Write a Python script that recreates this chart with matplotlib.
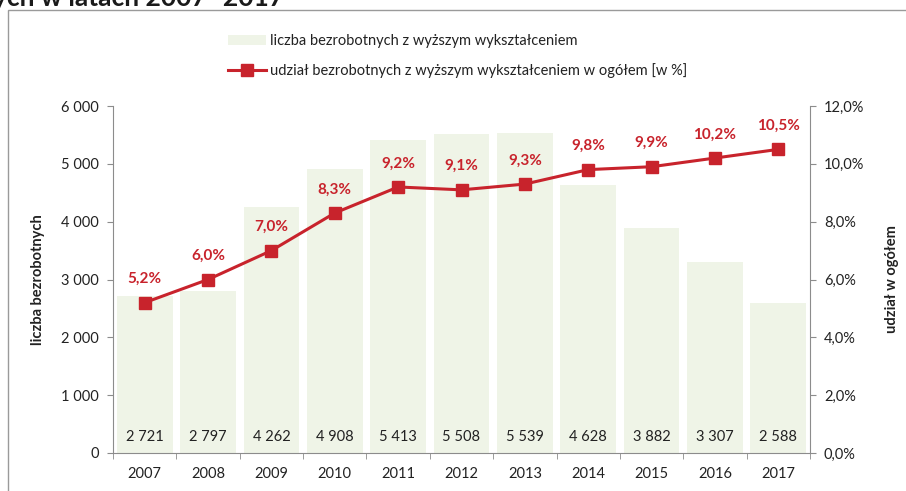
import numpy as np
import matplotlib.pyplot as plt
from matplotlib.patches import Rectangle
from matplotlib.ticker import FuncFormatter

plt.rcParams["font.family"] = ["Lato", "DejaVu Sans"]

years = ["2007", "2008", "2009", "2010", "2011", "2012", "2013", "2014", "2015", "2016", "2017"]
unemployed = [2721, 2797, 4262, 4908, 5413, 5508, 5539, 4628, 3882, 3307, 2588]
share = [5.2, 6.0, 7.0, 8.3, 9.2, 9.1, 9.3, 9.8, 9.9, 10.2, 10.5]

bar_color = "#eff4e7"
line_color = "#c8232c"
text_color = "#222222"
spine_color = "#8c8c8c"


def pl_thousands(v, _pos=None):
    return f"{int(round(v)):,}".replace(",", " ")


def pl_pct(v, _pos=None):
    return f"{v:.1f}%".replace(".", ",")


fig = plt.figure(figsize=(9.06, 4.91), dpi=100)

# frame around the chart and the title above it (cut by the top edge, as in the source)
fig.patches.append(Rectangle((8 / 906, -0.05), 1.2, 1 - 10 / 491 + 0.05,
                             transform=fig.transFigure, fill=False,
                             edgecolor="#9a9a9a", lw=1.0))
fig.text(-0.008, 1.005, "ych w latach 2007- 2017", fontsize=19, fontweight="bold",
         color="#1a1a1a", ha="left", va="center")

ax = fig.add_axes([113 / 906, 1 - 453 / 491, (810 - 113) / 906, (453 - 106) / 491])
x = np.arange(len(years))
ax.bar(x, unemployed, width=0.88, color=bar_color, zorder=1,
       label="liczba bezrobotnych z wyższym wykształceniem")
for xi, v in zip(x, unemployed):
    ax.text(xi, 280, pl_thousands(v), ha="center", va="center",
            fontsize=10.5, color=text_color)

ax.set_xlim(-0.5, len(years) - 0.5)
ax.set_ylim(0, 6000)
ax.set_yticks(np.arange(0, 6001, 1000))
ax.yaxis.set_major_formatter(FuncFormatter(pl_thousands))
ax.set_xticks(x)
ax.set_xticklabels(years)
ax.set_xticks(np.arange(-0.5, len(years)), minor=True)
ax.tick_params(axis="x", which="major", length=0, pad=10, labelsize=10.5, colors=text_color)
ax.tick_params(axis="x", which="minor", length=4, color=spine_color)
ax.tick_params(axis="y", length=4, color=spine_color, labelsize=10.5, colors=text_color, pad=6)
for s in ["top", "right"]:
    ax.spines[s].set_visible(False)
ax.spines["left"].set_color(spine_color)
ax.spines["bottom"].set_color(spine_color)
ax.set_ylabel("liczba bezrobotnych", fontsize=10.5, fontweight="bold",
              color=text_color, labelpad=12)

ax2 = ax.twinx()
ax2.plot(x, share, color=line_color, lw=2.2, marker="s", markersize=9,
         zorder=3, label="udział bezrobotnych z wyższym wykształceniem w ogółem [w %]")
for xi, v in zip(x, share):
    ax2.annotate(pl_pct(v), (xi, v), xytext=(0, 12), textcoords="offset points",
                 ha="center", va="bottom", fontsize=11, fontweight="bold", color=line_color)
ax2.set_ylim(0, 12)
ax2.set_yticks(np.arange(0, 12.1, 2))
ax2.yaxis.set_major_formatter(FuncFormatter(pl_pct))
ax2.tick_params(axis="y", length=4, color=spine_color, labelsize=10.5, colors=text_color, pad=6)
for s in ["top", "left", "bottom"]:
    ax2.spines[s].set_visible(False)
ax2.spines["right"].set_color(spine_color)
ax2.set_ylabel("udział w ogółem", fontsize=10.5, fontweight="bold",
               color=text_color, rotation=90, labelpad=15)

h1, l1 = ax.get_legend_handles_labels()
h2, l2 = ax2.get_legend_handles_labels()
fig.legend(h1 + h2, l1 + l2, loc="center", bbox_to_anchor=(0.505, 0.886),
           frameon=False, fontsize=10.5, handlelength=2.6, labelspacing=1.0,
           handletextpad=0.3, labelcolor=text_color)

fig.savefig("out.png", dpi=100)
